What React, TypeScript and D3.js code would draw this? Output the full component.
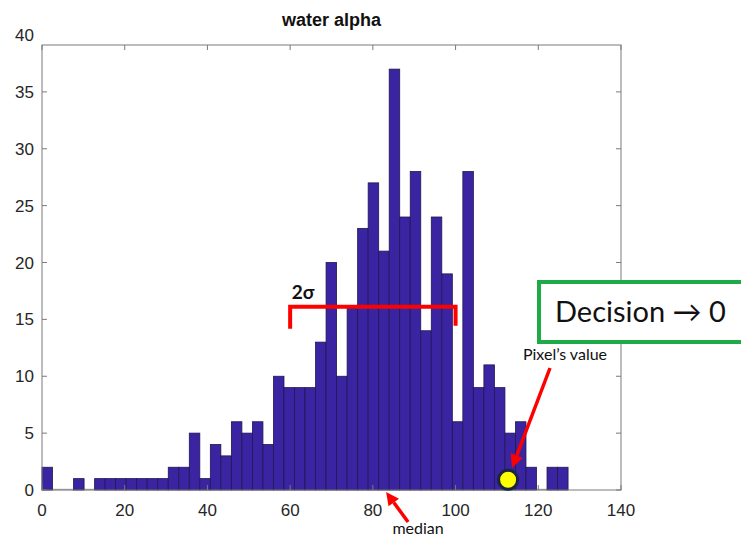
import React from 'react'
import * as d3 from 'd3'

// histogram counts, 50 equal bins starting at 0
const counts = [2, 0, 0, 1, 0, 1, 1, 1, 1, 1, 1, 1, 2, 2, 5, 1, 4, 3, 6, 5, 6, 4, 10, 9, 9, 9, 13, 20, 10, 16, 23, 27, 21, 37, 24, 28, 14, 24, 19, 6, 28, 9, 11, 9, 5, 6, 2, 0, 2, 2]
const binWidth = 2.544
const xTicks = [0, 20, 40, 60, 80, 100, 120, 140]
const yTicks = [0, 5, 10, 15, 20, 25, 30, 35, 40]
const sigmaRange = [60, 100]
const sigmaLevel = 16.1
const medianValue = 83.2
const pixelValue = [112.7, 0.9]

const W = 741
const H = 539
const left = 42
const right = 621
const top = 45
const bottom = 490

function arrow(x1: number, y1: number, x2: number, y2: number, head = 13, hw = 6.5) {
  // line from (x1,y1) to tip (x2,y2) with a filled head
  const a = Math.atan2(y2 - y1, x2 - x1)
  const bx = x2 - head * Math.cos(a), by = y2 - head * Math.sin(a)
  const px = -Math.sin(a) * hw, py = Math.cos(a) * hw
  return (
    <g>
      <line x1={x1} y1={y1} x2={bx} y2={by} stroke="#ff0000" strokeWidth={3.5} />
      <polygon points={`${x2},${y2} ${bx + px},${by + py} ${bx - px},${by - py}`} fill="#ff0000" />
    </g>
  )
}

export default function App() {
  const x = d3.scaleLinear().domain([0, 140]).range([left, right])
  const y = d3.scaleLinear().domain([0, 40]).range([bottom, 35])
  const nBins = counts.length
  const axisColor = '#7a7a7a'
  const tickFont = '"Liberation Sans", Arial, sans-serif'
  const noteFont = 'Lato, "Open Sans", sans-serif'

  const medX = x(medianValue)
  const px = x(pixelValue[0]), py = y(pixelValue[1])

  return (
    <svg width={W} height={H} style={{ position: 'absolute', left: 0, top: 0, background: '#fff' }}>
      <text x={(left + right) / 2} y={26} textAnchor="middle" fontFamily={tickFont} fontWeight="bold" fontSize={18} fill="#111">water alpha</text>

      {/* zero baseline under empty bins */}
      <line x1={x(0)} x2={x(nBins * binWidth)} y1={bottom - 0.5} y2={bottom - 0.5} stroke="#b0b0b0" strokeWidth={1.5} />

      {counts.map((c, i) => c > 0 && (
        <rect key={i}
          x={x(i * binWidth)} y={y(c)}
          width={x((i + 1) * binWidth) - x(i * binWidth)} height={y(0) - y(c)}
          fill="#3b24a2" stroke="#1e1850" strokeWidth={0.8} />
      ))}

      {/* axes box */}
      <rect x={left} y={top} width={right - left} height={bottom - top} fill="none" stroke={axisColor} strokeWidth={1} />
      {xTicks.map(t => (
        <g key={'x' + t}>
          <line x1={x(t)} x2={x(t)} y1={bottom} y2={bottom - 5} stroke={axisColor} />
          <line x1={x(t)} x2={x(t)} y1={top} y2={top + 5} stroke={axisColor} />
          <text x={x(t)} y={516} textAnchor="middle" fontFamily={tickFont} fontSize={17} fill="#262626">{t}</text>
        </g>
      ))}
      {yTicks.map(t => (
        <g key={'y' + t}>
          {y(t) >= top && <line x1={left} x2={left + 5} y1={y(t)} y2={y(t)} stroke={axisColor} />}
          {y(t) >= top && <line x1={right} x2={right - 5} y1={y(t)} y2={y(t)} stroke={axisColor} />}
          <text x={34} y={y(t) + 6} textAnchor="end" fontFamily={tickFont} fontSize={17} fill="#262626">{t}</text>
        </g>
      ))}

      {/* 2 sigma bracket */}
      <path d={`M${x(sigmaRange[0])},${y(sigmaLevel) + 22} V${y(sigmaLevel)} H${x(sigmaRange[1])} V${y(sigmaLevel) + 19}`}
        fill="none" stroke="#ff0000" strokeWidth={4} />
      <text x={x(sigmaRange[0]) + 13} y={y(sigmaLevel) - 8} textAnchor="middle" fontFamily={noteFont} fontWeight="bold" fontSize={19} fill="#111">2σ</text>

      {/* median */}
      {arrow(medX + 22, bottom + 32, medX, bottom + 2)}
      <text x={medX + 32} y={534} textAnchor="middle" fontFamily={noteFont} fontSize={16} fill="#111">median</text>

      {/* pixel value */}
      {arrow(550, 368, px + 4, py - 12)}
      <circle cx={px} cy={py} r={9.5} fill="#ffff00" stroke="#1a2440" strokeWidth={3} />
      <text x={565} y={360} textAnchor="middle" fontFamily={noteFont} fontSize={16} fill="#111">Pixel’s value</text>

      {/* decision box */}
      <rect x={539} y={282} width={220} height={60} fill="#fff" stroke="#1faa48" strokeWidth={4} />
      <text x={555} y={322} fontFamily={noteFont} fontSize={29} fill="#111">Decision → 0</text>
    </svg>
  )
}
